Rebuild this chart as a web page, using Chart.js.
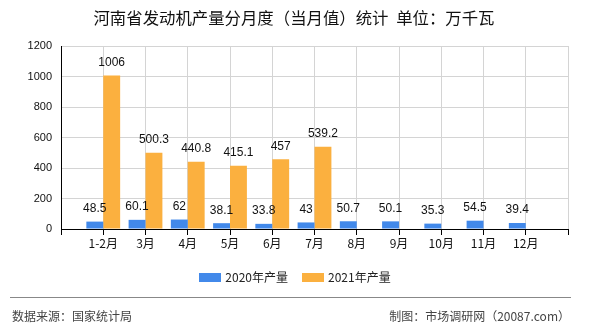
<!DOCTYPE html>
<html>
<head>
<meta charset="utf-8">
<script src="https://cdn.jsdelivr.net/npm/chart.js@4.4.0/dist/chart.umd.min.js"></script>
<style>
  html, body { margin:0; padding:0; background:#fff; }
  #wrap { position:relative; width:590px; height:330px; overflow:hidden; font-family:'Noto Sans CJK SC', sans-serif; }
  #c { position:absolute; left:0; top:0; }
  #title { position:absolute; left:0; width:588px; top:9px; text-align:center; font-size:16.4px; line-height:16px; color:#111; white-space:nowrap; word-spacing:4px; }
  #legend { position:absolute; left:0; width:590px; top:270px; display:flex; justify-content:center; align-items:center; font-size:12px; line-height:14px; color:#222; }
  .item { display:flex; align-items:center; margin:0 7px; }
  .sw { width:22px; height:9px; margin-right:4px; }
  #rule { position:absolute; left:10px; width:561px; top:297px; height:1px; background:#888; }
  .foot { position:absolute; top:309px; font-size:12px; line-height:14px; color:#444; white-space:nowrap; }
</style>
</head>
<body>
<div id="wrap">
  <canvas id="c" width="590" height="330"></canvas>
  <div id="title">河南省发动机产量分月度（当月值）统计 单位：万千瓦</div>
  <div id="legend"></div>
  <div id="rule"></div>
  <div class="foot" style="left:12px;">数据来源：国家统计局</div>
  <div class="foot" style="right:20px;">制图：市场调研网（20087.com）</div>
</div>
<script>
const categories = ['1-2月','3月','4月','5月','6月','7月','8月','9月','10月','11月','12月'];
const series2020 = [48.5, 60.1, 62, 38.1, 33.8, 43, 50.7, 50.1, 35.3, 54.5, 39.4];
const series2021 = [1006, 500.3, 440.8, 415.1, 457, 539.2];
const seriesNames = ['2020年产量', '2021年产量'];
const seriesColors = ['#4289ea', '#fbb03f'];
const yTicks = [0, 200, 400, 600, 800, 1000, 1200];

// edge slots so that labels sit on grid lines
const labels = [''].concat(categories, ['']);
function pad(arr) {
  const out = [null];
  for (let i = 0; i < categories.length; i++) out.push(i < arr.length ? arr[i] : null);
  out.push(null);
  return out;
}

const legend = document.getElementById('legend');
seriesNames.forEach((n, i) => {
  const it = document.createElement('div'); it.className = 'item';
  const sw = document.createElement('div'); sw.className = 'sw'; sw.style.background = seriesColors[i];
  const tx = document.createElement('span'); tx.textContent = n;
  it.appendChild(sw); it.appendChild(tx); legend.appendChild(it);
});

const valueLabels = {
  id: 'valueLabels',
  afterDatasetsDraw(chart) {
    const ctx = chart.ctx;
    ctx.save();
    ctx.font = '12px "Liberation Sans", sans-serif';
    ctx.fillStyle = '#111';
    ctx.textAlign = 'center';
    ctx.textBaseline = 'middle';
    chart.data.datasets.forEach((ds, i) => {
      const meta = chart.getDatasetMeta(i);
      meta.data.forEach((el, j) => {
        const v = ds.data[j];
        if (v == null) return;
        ctx.fillText(String(v), el.x, el.y - 13);
      });
    });
    ctx.restore();
  }
};

new Chart(document.getElementById('c'), {
  type: 'bar',
  data: {
    labels: labels,
    datasets: [
      { label: seriesNames[0], data: pad(series2020), backgroundColor: seriesColors[0], categoryPercentage: 0.8, barPercentage: 1.0 },
      { label: seriesNames[1], data: pad(series2021), backgroundColor: seriesColors[1], categoryPercentage: 0.8, barPercentage: 1.0 }
    ]
  },
  options: {
    responsive: false,
    animation: false,
    devicePixelRatio: 1,
    layout: { padding: { left: 0, right: 22, top: 46, bottom: 71 } },
    plugins: { legend: { display: false }, title: { display: false }, tooltip: { enabled: false } },
    scales: {
      x: {
        type: 'category',
        offset: false,
        grid: { offset: false, color: '#d4d4d4', tickColor: '#000', tickLength: 6, lineWidth: 1 },
        border: { display: true, color: '#000', width: 1 },
        ticks: { autoSkip: false, maxRotation: 0, padding: 1, color: '#111', font: { family: '"Noto Sans CJK SC", sans-serif', size: 12 } },
        afterFit(s) { s.height = 30; }
      },
      y: {
        min: 0, max: 1200,
        afterBuildTicks(s) { s.ticks = yTicks.map(v => ({ value: v })); },
        grid: { color: '#d4d4d4', drawTicks: false },
        border: { display: true, color: '#000', width: 1 },
        ticks: { padding: 9, color: '#111', font: { family: '"Liberation Sans", sans-serif', size: 11 }, callback: (v) => String(v) },
        afterFit(s) { s.width = 61; }
      }
    }
  },
  plugins: [valueLabels]
});
</script>
</body>
</html>
